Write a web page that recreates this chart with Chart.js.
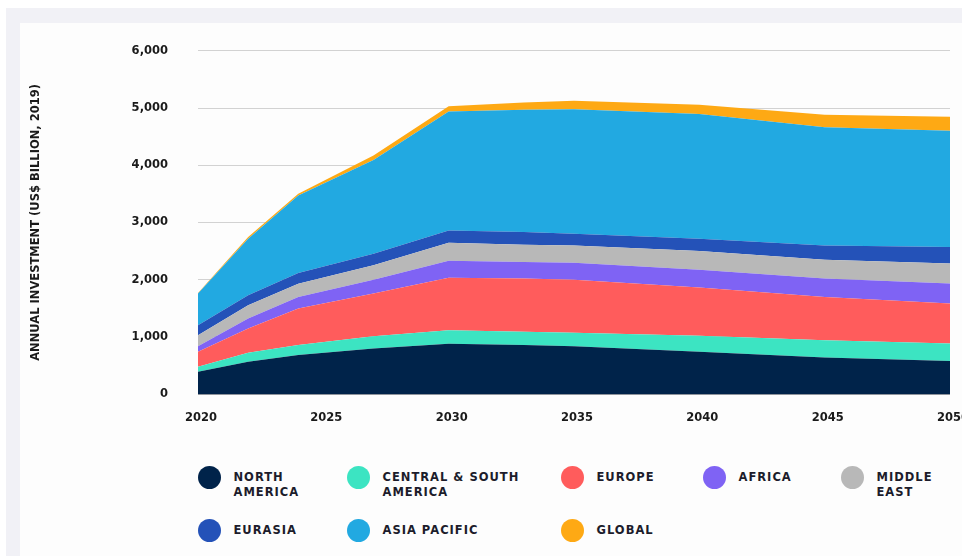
<!DOCTYPE html>
<html>
<head>
<meta charset="utf-8">
<script src="https://cdn.jsdelivr.net/npm/chart.js@4.4.1/dist/chart.umd.min.js"></script>
<style>
html,body{margin:0;padding:0;background:#ffffff;overflow:hidden;width:962px;height:556px;}
#panel{position:absolute;left:6px;top:8px;width:1000px;height:600px;background:#f1f1f6;}
#card{position:absolute;left:20px;top:23px;width:1000px;height:600px;background:#fdfdfd;}
#wrap{position:absolute;left:20px;top:14px;width:963px;height:426px;}
#legend{position:absolute;left:197.5px;top:465.5px;display:grid;grid-template-columns:149px 214px 142px 138px 100px;row-gap:19px;}
.item{display:flex;align-items:flex-start;}
.dot{width:23px;height:23px;border-radius:50%;flex:none;margin-right:13px;}
.lbl{font-family:"DejaVu Sans";font-weight:bold;font-size:11.5px;letter-spacing:1px;line-height:15px;padding-top:4px;color:#1c1c2b;}
</style>
</head>
<body>
<div id="panel"></div>
<div id="card"></div>
<div id="wrap"><canvas id="c" width="963" height="426" style="width:963px;height:426px;"></canvas></div>
<div id="legend"></div>
<script>
// ---- data (US$ billion, 2019) ----
const years = [2020, 2022, 2024, 2027, 2030, 2033, 2035, 2040, 2045, 2050];
const northAmerica   = [389, 564, 680, 797, 878, 858, 837, 738, 640, 576];
const centralSouthAm = [87, 157, 175, 215, 238, 232, 233, 279, 302, 308];
const europe         = [262, 425, 639, 744, 919, 930, 930, 844, 755, 698];
const africa         = [99, 174, 203, 244, 295, 290, 297, 314, 321, 349];
const middleEast     = [192, 232, 233, 250, 315, 300, 302, 325, 331, 349];
const eurasia        = [175, 175, 186, 204, 215, 222, 205, 215, 250, 290];
const asiaPacific    = [552, 988, 1355, 1639, 2082, 2140, 2174, 2181, 2064, 2035];
const global         = [9, 29, 29, 76, 90, 125, 150, 162, 221, 244];

const seriesNames = ['NORTH AMERICA', 'CENTRAL & SOUTH AMERICA', 'EUROPE', 'AFRICA', 'MIDDLE EAST',
                     'EURASIA', 'ASIA PACIFIC', 'GLOBAL'];
const seriesValues = [northAmerica, centralSouthAm, europe, africa, middleEast, eurasia, asiaPacific, global];
const xTickLabels = [2020, 2025, 2030, 2035, 2040, 2045, 2050];
const yTickLabels = [0, 1000, 2000, 3000, 4000, 5000, 6000];
const yTitle = 'ANNUAL INVESTMENT (US$ BILLION, 2019)';

// ---- styles ----
const seriesColors = ['#00234a', '#3ce4c2', '#ff5c5c', '#7f63f4', '#b8b8b8', '#2452b8', '#22a9e1', '#fea914'];

const datasets = seriesValues.map((vals, i) => ({
  label: seriesNames[i],
  data: vals.map((v, j) => ({x: years[j], y: v})),
  backgroundColor: seriesColors[i],
  borderColor: seriesColors[i],
  borderWidth: 0,
  pointRadius: 0,
  tension: 0,
  fill: i === 0 ? 'origin' : '-1'
}));

const tickFont = {family: 'DejaVu Sans', weight: 'bold', size: 11.5};

new Chart(document.getElementById('c'), {
  type: 'line',
  data: {datasets},
  options: {
    responsive: false,
    animation: false,
    events: [],
    layout: {padding: {top: 18, right: 7, bottom: 15, left: 0}},
    plugins: {legend: {display: false}, tooltip: {enabled: false}},
    scales: {
      x: {
        type: 'linear',
        min: xTickLabels[0],
        max: xTickLabels[xTickLabels.length - 1],
        afterBuildTicks: s => { s.ticks = xTickLabels.map(v => ({value: v})); },
        afterFit: s => { s.height = 31; },
        grid: {display: false, drawTicks: false},
        border: {display: true, color: '#8f949c', width: 1},
        ticks: {font: tickFont, color: '#1a1a1a', padding: 17, maxRotation: 0, autoSkip: false,
                labelOffset: 3, callback: v => String(v)}
      },
      y: {
        stacked: true,
        min: yTickLabels[0],
        max: yTickLabels[yTickLabels.length - 1],
        afterBuildTicks: s => { s.ticks = yTickLabels.map(v => ({value: v})); },
        afterFit: s => { s.width = 178; },
        grid: {color: '#d2d2d2', lineWidth: 1, drawTicks: false},
        border: {display: false},
        ticks: {font: tickFont, color: '#1a1a1a', padding: 30,
                callback: v => Number(v).toLocaleString('en-US')},
        title: {display: true, text: yTitle, color: '#1a1a1a',
                font: {family: 'DejaVu Sans', weight: 'bold', size: 11.5},
                padding: {top: 9, bottom: 0}}
      }
    }
  }
});

// ---- HTML legend ----
const legend = document.getElementById('legend');
seriesNames.forEach((name, i) => {
  const item = document.createElement('div');
  item.className = 'item';
  const dot = document.createElement('span');
  dot.className = 'dot';
  dot.style.background = seriesColors[i];
  const lbl = document.createElement('span');
  lbl.className = 'lbl';
  lbl.textContent = name;
  item.appendChild(dot);
  item.appendChild(lbl);
  legend.appendChild(item);
});
</script>
</body>
</html>
